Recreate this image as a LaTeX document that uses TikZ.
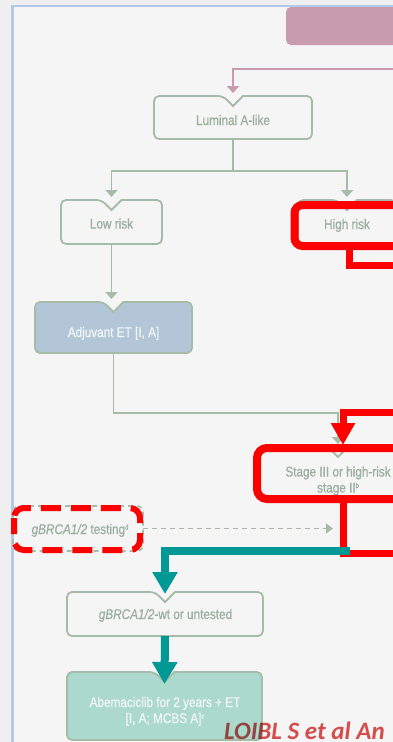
\documentclass[tikz,border=0pt]{standalone}
\usepackage{fontspec}
\setmainfont[FakeStretch=0.84, FakeBold=0.7]{Liberation Sans}
\newfontfamily\citefont{Carlito}
\usetikzlibrary{arrows.meta}

\definecolor{outerbg}{HTML}{EFEFEF}
\definecolor{innerbg}{HTML}{F5F5F5}
\definecolor{framecol}{HTML}{B5C8EA}
\definecolor{pinkcol}{HTML}{C89BAE}
\definecolor{boxgreen}{HTML}{A6BCA8}
\definecolor{txtgreen}{HTML}{9AAF9D}
\definecolor{etblue}{HTML}{B3C6D7}
\definecolor{abemint}{HTML}{ABD9CD}
\definecolor{lighttxt}{HTML}{F2F6F6}
\definecolor{markred}{HTML}{FF0000}
\definecolor{tealcol}{HTML}{009995}
\definecolor{citered}{HTML}{DE5050}

% small raised footnote letters
\newcommand{\supmark}[1]{\raisebox{4.5pt}{\fontsize{7}{7}\selectfont #1}}

% box outline with a V-shaped notch at the top centre
\newcommand{\notchbox}[2]{%
  \draw[boxline, fill=#2, rounded corners=5pt]
    (#1.north west) -- ([xshift=-10pt]#1.north) [sharp corners]
    -- ([yshift=-10pt]#1.north) -- ([xshift=10pt]#1.north) [rounded corners=5pt]
    -- (#1.north east) -- (#1.south east) -- (#1.south west) -- cycle;}

\tikzset{
  boxline/.style={draw=boxgreen, line width=1.8pt},
  slot/.style={inner sep=0pt, outer sep=0pt, draw=none},
  lbl/.style={text=txtgreen, font=\fontsize{14}{16}\selectfont, inner sep=0pt,
              anchor=base, align=center},
  conn/.style={draw=boxgreen, line width=1.8pt,
               -{Triangle[width=12pt,length=7pt]}, shorten >=3pt},
  pinkconn/.style={draw=pinkcol, line width=2pt,
               -{Triangle[width=12pt,length=7pt]}, shorten >=3pt},
  dashconn/.style={draw=boxgreen, line width=1.6pt, dash pattern=on 5pt off 4pt,
               -{Triangle[width=10pt,length=7pt]}},
  redmark/.style={draw=markred, line width=8pt},
  redline/.style={draw=markred, line width=7pt},
  tealarrow/.style={draw=tealcol, line width=8pt,
               -{Triangle[width=24pt,length=22pt]}},
}

\begin{document}
\begin{tikzpicture}[x=1pt, y=-1pt]
\useasboundingbox (0,0) rectangle (393,742);
\clip (0,0) rectangle (393,742);

% page and frame
\fill[outerbg] (0,0) rectangle (393,742);
\draw[framecol, line width=2.5pt, fill=innerbg] (12.5,6) rectangle (430,770);

% header box
\node[slot, fill=pinkcol, rounded corners=5pt, minimum width=140pt,
      minimum height=38pt] (topbox) at (356,26) {};

% box slots
\node[slot, minimum width=158pt, minimum height=43pt] (lum)   at (233,117.5) {};
\node[slot, minimum width=101pt, minimum height=44pt] (low)   at (111.5,222) {};
\node[slot, minimum width=98pt,  minimum height=44pt] (high)  at (347,222) {};
\node[slot, minimum width=157pt, minimum height=51pt] (adj)   at (113.5,327.5) {};
\node[slot, minimum width=156pt, minimum height=50pt] (stage) at (338,472) {};
\node[slot, minimum width=130pt, minimum height=45pt] (gtest) at (78,528.5) {};
\node[slot, minimum width=196pt, minimum height=44pt] (gbwt)  at (165,614) {};
\node[slot, minimum width=195pt, minimum height=68pt] (abema) at (164.5,706) {};

% box outlines
\notchbox{lum}{innerbg}
\notchbox{low}{innerbg}
\notchbox{high}{innerbg}
\notchbox{adj}{etblue}
\notchbox{stage}{innerbg}
\notchbox{gbwt}{innerbg}
\notchbox{abema}{abemint}
\draw[boxline, line width=1.6pt, dash pattern=on 5pt off 4pt, rounded corners=6pt]
  (gtest.north west) rectangle (gtest.south east);

% labels (two-line labels sit on the baseline of their last line)
\node[lbl] (lumtxt)   at (233,125)   {Luminal A-like};
\node[lbl] (lowtxt)   at (111.5,228.5) {Low risk};
\node[lbl] (hightxt)  at (347,229)   {High risk};
\node[lbl, text=lighttxt] (adjtxt) at (113.5,337) {Adjuvant ET [I, A]};
\node[lbl] (stagetxt) at (338,492.5) {Stage III or high-risk\\stage II\supmark{b}};
\node[lbl] (gtesttxt) at (80,534)    {\textit{gBRCA1/2} testing\supmark{d}};
\node[lbl] (gbwttxt)  at (165.5,619) {\textit{gBRCA1/2}-wt or untested};
\node[lbl, text=lighttxt] (abematxt) at (165,723)
  {Abemaciclib for 2 years + ET\\{}[I, A; MCBS A]\supmark{c}};

% connectors
\coordinate (pinkin) at (400,69);
\draw[pinkconn] (pinkin) -| (lum.north);
\draw[conn] (lum.south) -- ++(0,32) -| (low.north);
\draw[conn] (lum.south) -- ++(0,32) -| (high.north);
\draw[conn] (low.south) -- (low.south |- adj.north);
\draw[conn] (adj.south) -- ++(0,60) -| (stage.north);
\coordinate (merge) at (333,528.5);
\draw[dashconn] (gtest.east) -- (merge);

% red highlights
\draw[redmark, rounded corners=8pt] (294.5,205) rectangle (440,246);
\draw[redline] (349,246) -- (349,265) -- (440,265);
\draw[redmark, rounded corners=10pt] (257,448) rectangle (440,499);
\coordinate (redin) at (440,412);
\draw[redline, -{Triangle[width=23pt,length=22pt]}] (redin) -- (343,412) -- (343,445);
\draw[redline] (343.5,499) -- (343.5,553) -- (440,553);
\draw[draw=markred, line width=6pt, dash pattern=on 20pt off 10pt, dash phase=4pt,
      rounded corners=10pt] (14,508) rectangle (140,550);

% teal highlights
\coordinate (tealin) at (350,550.5);
\draw[tealarrow] (tealin) -| ([yshift=-2pt]gbwt.north);
\draw[tealarrow] (gbwt.south) -- ([yshift=-12pt]abema.north);

% source note
\begin{scope}[blend mode=multiply]
\node[anchor=base west, inner sep=0pt, text depth=0pt, text=citered,
      font=\citefont\bfseries\itshape\fontsize{25}{25}\selectfont] (cite)
  at (224,739) {LOIBL S et al An};
\end{scope}
\end{tikzpicture}
\end{document}
